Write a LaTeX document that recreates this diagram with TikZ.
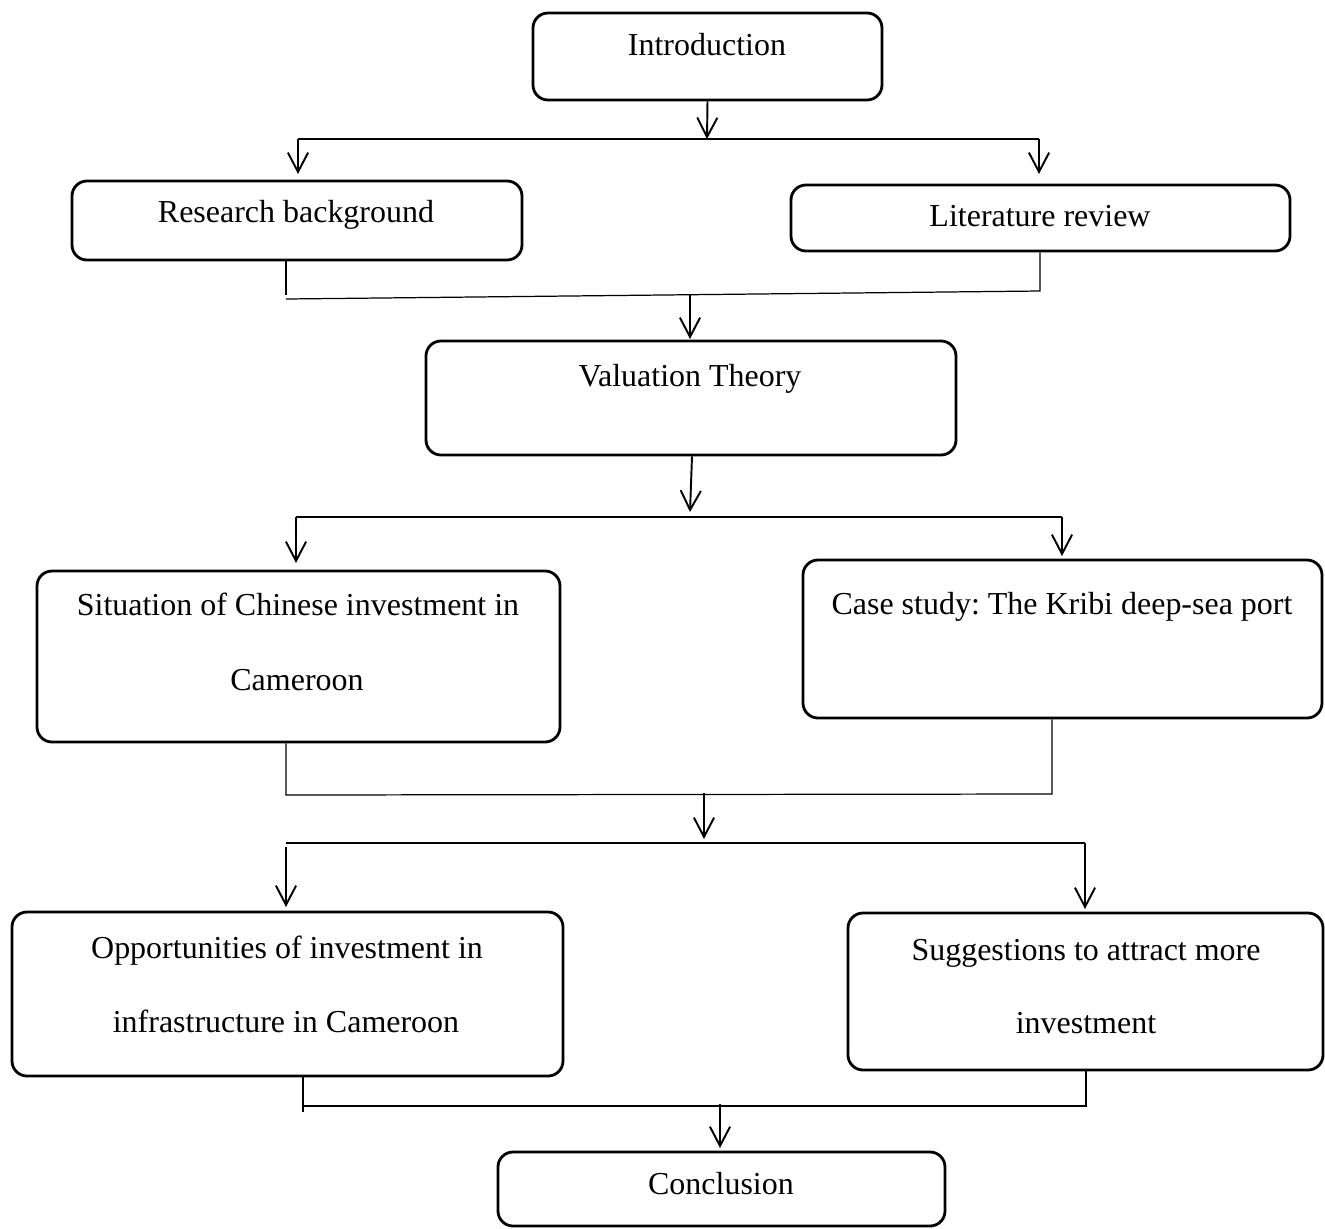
\documentclass[tikz,border=0pt]{standalone}
\usepackage{fontspec}
\setmainfont{Liberation Serif}
\usetikzlibrary{arrows.meta,fit}
\begin{document}
\frenchspacing
\begin{tikzpicture}[x=0.02cm,y=-0.02cm,
  box/.style={draw, line width=1.6pt, rounded corners=0.3cm, inner sep=0pt},
  lbl/.style={anchor=base, inner sep=0pt, font=\fontsize{18.2}{22}\selectfont},
  thinln/.style={line width=0.7pt},
  arr/.style={line width=1.1pt, -{Straight Barb[length=11pt,width=11.5pt,line width=1.1pt]}}]
\useasboundingbox (0,0) rectangle (1325,1228);
% boxes
\node[box, fit={(533,13)(882,100)}] (intro) {};
\node[box, fit={(72,181)(522,260)}] (rb) {};
\node[box, fit={(791,185)(1290,251)}] (lr) {};
\node[box, fit={(426,341)(956,455)}] (vt) {};
\node[box, fit={(37,571)(560,742)}] (sit) {};
\node[box, fit={(803,560)(1322,718)}] (cs) {};
\node[box, fit={(12,912)(563,1076)}] (opp) {};
\node[box, fit={(848,913)(1323,1070)}] (sug) {};
\node[box, fit={(498,1152)(945,1226)}] (con) {};
% labels
\node[lbl] (tintro) at (707,55) {Introduction};
\node[lbl] (trb) at (296,222) {Research background};
\node[lbl] (tlr) at (1040,226) {Literature review};
\node[lbl] (tvt) at (690,386) {Valuation Theory};
\node[lbl] (tsit1) at (298,615) {Situation of Chinese investment in};
\node[lbl] (tsit2) at (297,690) {Cameroon};
\node[lbl] (tcs) at (1062,614) {Case study: The Kribi deep-sea port};
\node[lbl] (topp1) at (287,958) {Opportunities of investment in};
\node[lbl] (topp2) at (286,1032) {infrastructure in Cameroon};
\node[lbl] (tsug1) at (1086,960) {Suggestions to attract more};
\node[lbl] (tsug2) at (1086,1033) {investment};
\node[lbl] (tcon) at (721,1194) {Conclusion};
% stage 1
\coordinate (s1) at (707,139);
\coordinate (s1l) at (298,139);
\coordinate (s1r) at (1039,139);
\coordinate (e1l) at (298,174);
\coordinate (e1r) at (1039,174);
\draw[arr] (intro.south) -- (s1);
\draw[thinln] (s1l) -- (s1r);
\draw[arr] (s1l) -- (e1l);
\draw[arr] (s1r) -- (e1r);
% stage 2
\coordinate (a2) at (286,295);
\coordinate (b2) at (286,299);
\coordinate (c2) at (1040,291);
\coordinate (m2) at (690,294);
\coordinate (e2) at (690,339);
\draw[thinln] (rb.south -| a2) -- (a2);
\draw[thinln] (b2) -- (c2) -- (lr.south -| c2);
\draw[arr] (m2) -- (e2);
% stage 3
\coordinate (m3) at (690,512);
\coordinate (s3l) at (296,517);
\coordinate (s3r) at (1062,517);
\coordinate (e3l) at (296,563);
\coordinate (e3r) at (1062,556);
\draw[arr] (vt.south -| 692,0) -- (m3);
\draw[thinln] (s3l) -- (s3r);
\draw[arr] (s3l) -- (e3l);
\draw[arr] (s3r) -- (e3r);
% stage 4
\coordinate (a4) at (286,795);
\coordinate (b4) at (1052,794);
\coordinate (m4) at (704,793);
\coordinate (e4) at (704,839);
\coordinate (s4l) at (286,843);
\coordinate (s4r) at (1085,843);
\coordinate (f4l) at (286,847);
\coordinate (e4l) at (286,907);
\coordinate (e4r) at (1085,909);
\draw[thinln] (sit.south -| a4) -- (a4) -- (b4) -- (cs.south -| b4);
\draw[arr] (m4) -- (e4);
\draw[thinln] (s4l) -- (s4r);
\draw[arr] (f4l) -- (e4l);
\draw[arr] (s4r) -- (e4r);
% stage 5
\coordinate (a5) at (303,1112);
\coordinate (b5) at (303,1106);
\coordinate (c5) at (1086,1106);
\coordinate (m5) at (720,1104);
\coordinate (e5) at (720,1148);
\draw[thinln] (opp.south -| a5) -- (a5);
\draw[thinln] (b5) -- (c5) -- (sug.south -| c5);
\draw[arr] (m5) -- (e5);
\end{tikzpicture}
\end{document}
